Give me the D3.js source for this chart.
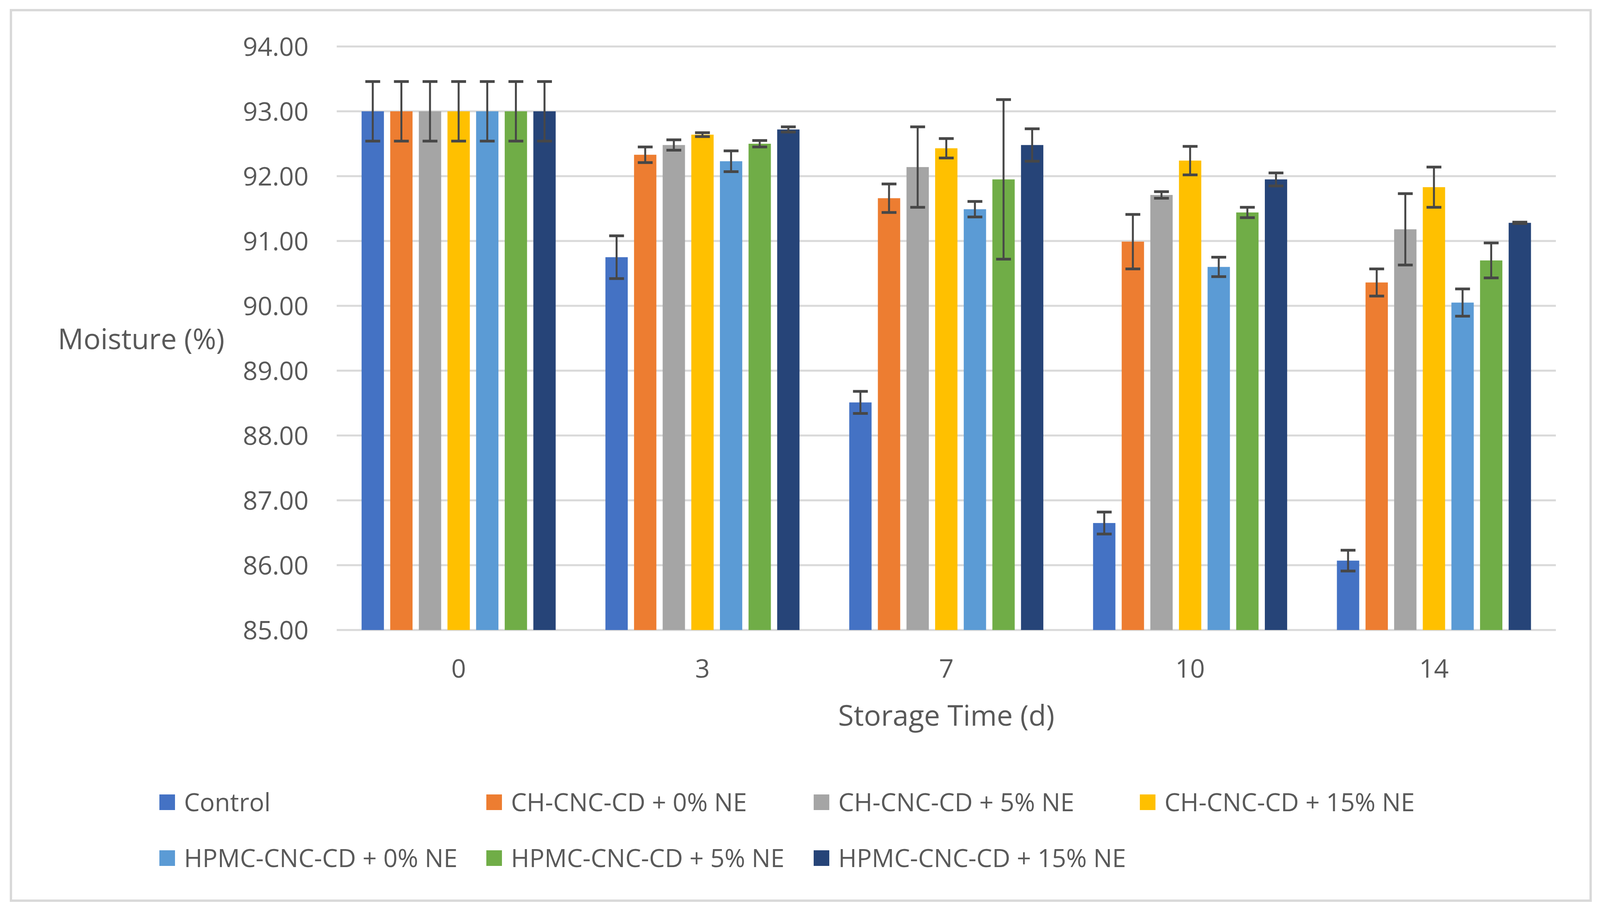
<!DOCTYPE html>
<html lang="en">
<head>
    <meta charset="UTF-8">
    <title>Moisture (%) vs Storage Time</title>
    <script src="https://cdnjs.cloudflare.com/ajax/libs/d3/7.8.5/d3.min.js"></script>
    <style>
        body {
            margin: 0;
            background-color: #ffffff;
        }
        svg text {
            font-family: "Open Sans", "Noto Sans", sans-serif;
            fill: #595959;
        }
    </style>
</head>
<body>
    <div id="chart"></div>

    <script>
        // storage days (x categories)
        const days = ["0", "3", "7", "10", "14"];

        const seriesNames = [
            "Control",
            "CH-CNC-CD + 0% NE",
            "CH-CNC-CD + 5% NE",
            "CH-CNC-CD + 15% NE",
            "HPMC-CNC-CD + 0% NE",
            "HPMC-CNC-CD + 5% NE",
            "HPMC-CNC-CD + 15% NE"
        ];
        const seriesColors = ["#4472C4", "#ED7D31", "#A5A5A5", "#FFC000", "#5B9BD5", "#70AD47", "#264478"];

        // moisture values, one array per series (days 0, 3, 7, 10, 14)
        const control = [93.00, 90.75, 88.51, 86.65, 86.07];
        const ch0 = [93.00, 92.33, 91.66, 90.99, 90.36];
        const ch5 = [93.00, 92.48, 92.14, 91.71, 91.18];
        const ch15 = [93.00, 92.64, 92.43, 92.24, 91.83];
        const hpmc0 = [93.00, 92.23, 91.49, 90.60, 90.05];
        const hpmc5 = [93.00, 92.50, 91.95, 91.44, 90.70];
        const hpmc15 = [93.00, 92.72, 92.48, 91.95, 91.28];

        // standard deviations (error bars)
        const controlErr = [0.46, 0.33, 0.17, 0.17, 0.16];
        const ch0Err = [0.46, 0.12, 0.22, 0.42, 0.21];
        const ch5Err = [0.46, 0.08, 0.62, 0.05, 0.55];
        const ch15Err = [0.46, 0.03, 0.15, 0.22, 0.31];
        const hpmc0Err = [0.46, 0.16, 0.12, 0.15, 0.21];
        const hpmc5Err = [0.46, 0.05, 1.23, 0.08, 0.27];
        const hpmc15Err = [0.46, 0.04, 0.25, 0.10, 0.01];

        const yTicks = [85, 86, 87, 88, 89, 90, 91, 92, 93, 94];

        const values = [control, ch0, ch5, ch15, hpmc0, hpmc5, hpmc15];
        const errors = [controlErr, ch0Err, ch5Err, ch15Err, hpmc0Err, hpmc5Err, hpmc15Err];

        const W = 4102, H = 2335;
        const plot = {left: 862, right: 3983, top: 119, bottom: 1613};

        const svg = d3.select("#chart")
            .append("svg")
            .attr("width", W)
            .attr("height", H);

        svg.append("rect")
            .attr("width", W).attr("height", H)
            .attr("fill", "#ffffff");

        // chart border
        svg.append("rect")
            .attr("x", 28).attr("y", 26)
            .attr("width", 4044).attr("height", 2280)
            .attr("fill", "none")
            .attr("stroke", "#D9D9D9")
            .attr("stroke-width", 6);

        const y = d3.scaleLinear()
            .domain([85, 94])
            .range([plot.bottom, plot.top]);

        const x0 = d3.scaleBand()
            .domain(days)
            .range([plot.left, plot.right])
            .paddingInner(0.204)
            .paddingOuter(0.102);

        const x1 = d3.scaleBand()
            .domain(d3.range(seriesNames.length))
            .range([0, x0.bandwidth()])
            .paddingInner(0.22)
            .paddingOuter(0);

        // gridlines
        svg.append("g")
            .selectAll("line")
            .data(yTicks)
            .enter()
            .append("line")
            .attr("x1", plot.left)
            .attr("x2", plot.right)
            .attr("y1", d => y(d))
            .attr("y2", d => y(d))
            .attr("stroke", "#D9D9D9")
            .attr("stroke-width", 5);

        // y tick labels
        svg.append("g")
            .selectAll("text")
            .data(yTicks)
            .enter()
            .append("text")
            .attr("x", 790)
            .attr("y", d => y(d))
            .attr("dy", "0.36em")
            .attr("text-anchor", "end")
            .style("font-size", "66px")
            .text(d => d.toFixed(2));

        // bars
        const rows = [];
        values.forEach((vals, s) => {
            vals.forEach((v, i) => {
                rows.push({day: days[i], s: s, value: v, err: errors[s][i]});
            });
        });

        const groups = svg.append("g");

        groups.selectAll("rect")
            .data(rows)
            .enter()
            .append("rect")
            .attr("x", d => x0(d.day) + x1(d.s))
            .attr("y", d => y(d.value))
            .attr("width", x1.bandwidth())
            .attr("height", d => y(85) - y(d.value))
            .attr("fill", d => seriesColors[d.s]);

        // error bars
        const capW = 38;
        const eb = svg.append("g")
            .attr("stroke", "#474747")
            .attr("stroke-width", 5);

        rows.forEach(d => {
            const cx = x0(d.day) + x1(d.s) + x1.bandwidth() / 2;
            const yTop = y(d.value + d.err);
            const yBot = y(d.value - d.err);
            eb.append("line")
                .attr("x1", cx).attr("x2", cx)
                .attr("y1", yTop).attr("y2", yBot);
            eb.append("line")
                .attr("x1", cx - capW / 2).attr("x2", cx + capW / 2)
                .attr("y1", yTop).attr("y2", yTop)
                .attr("stroke-width", 7);
            eb.append("line")
                .attr("x1", cx - capW / 2).attr("x2", cx + capW / 2)
                .attr("y1", yBot).attr("y2", yBot)
                .attr("stroke-width", 7);
        });

        // x tick labels
        svg.append("g")
            .selectAll("text")
            .data(days)
            .enter()
            .append("text")
            .attr("x", d => x0(d) + x0.bandwidth() / 2)
            .attr("y", 1711)
            .attr("dy", "0.36em")
            .attr("text-anchor", "middle")
            .style("font-size", "66px")
            .text(d => d);

        // axis titles
        svg.append("text")
            .attr("x", 148)
            .attr("y", 868)
            .attr("dy", "0.36em")
            .style("font-size", "73px")
            .text("Moisture (%)");

        svg.append("text")
            .attr("x", (plot.left + plot.right) / 2)
            .attr("y", 1832)
            .attr("dy", "0.36em")
            .attr("text-anchor", "middle")
            .style("font-size", "73px")
            .text("Storage Time (d)");

        // legend
        const legendX = [408, 1245, 2083, 2918];
        const legendY = [2054, 2197];
        const legend = svg.append("g");

        seriesNames.forEach((name, i) => {
            const col = i < 4 ? i : i - 4;
            const row = i < 4 ? 0 : 1;
            const g = legend.append("g")
                .attr("transform", `translate(${legendX[col]},${legendY[row]})`);
            g.append("rect")
                .attr("x", 0)
                .attr("y", -20)
                .attr("width", 40)
                .attr("height", 40)
                .attr("fill", seriesColors[i]);
            g.append("text")
                .attr("x", 63)
                .attr("y", 0)
                .attr("dy", "0.36em")
                .style("font-size", "64px")
                .text(name);
        });
    </script>
</body>
</html>
